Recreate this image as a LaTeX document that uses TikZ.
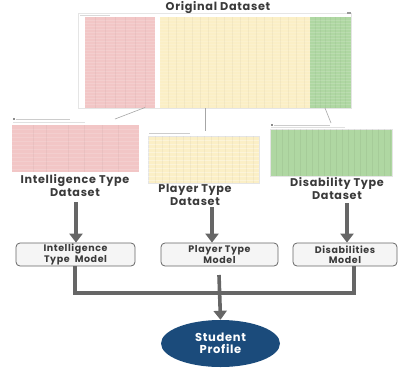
\documentclass[tikz,border=0pt]{standalone}
\usepackage{fontspec}
\setmainfont{Poppins}
\usetikzlibrary{arrows.meta,shapes.geometric}
\definecolor{redc}{HTML}{F2C6C6}
\definecolor{yelc}{HTML}{FBEFC6}
\definecolor{grnc}{HTML}{AFD7A2}
\definecolor{navy}{HTML}{1B4B7B}
\definecolor{arrowgray}{HTML}{666666}
\definecolor{txt}{HTML}{3A3A3A}
\tikzset{
  sheet/.style={draw=black!10, line width=0.4pt, fill=white, inner sep=0pt, rectangle},
  thinlink/.style={draw=black!35, line width=0.6pt},
  fat/.style={draw=arrowgray, line width=3.6pt},
  fatarrow/.style={fat, -{Triangle[width=13pt,length=9pt]}},
  model/.style={draw=black!60, line width=0.8pt, fill=black!4, rounded corners=4pt,
    minimum width=#1, minimum height=23pt, align=center,
    font=\bfseries\fontsize{9.5}{10.4}\selectfont\addfontfeature{LetterSpace=6}, text=txt, inner sep=1pt},
  label/.style={align=center, font=\bfseries\fontsize{11.2}{13}\selectfont\addfontfeature{LetterSpace=6}, text=txt},
  stripe/.style={draw=white, line width=0.5pt, opacity=0.15},
  darkstripe/.style={draw=black, line width=0.4pt, opacity=0.035},
}
\begin{document}
\begin{tikzpicture}[x=1pt,y=-1pt]
\useasboundingbox (0,0) rectangle (408,368);
% ---------- Original dataset ----------
\node[font=\bfseries\fontsize{11.3}{12}\selectfont\addfontfeature{LetterSpace=6}, text=txt] (origtitle) at (218,7.5) {Original Dataset};
\node[sheet, minimum width=273pt, minimum height=95pt, anchor=north west] (orig) at (78,13) {};
\fill[redc] (85,17) rectangle (155,108);
\fill[yelc] (160,17) rectangle (310,108);
\fill[grnc] (310,17) rectangle (351,108);
\foreach \y in {20,23,...,106} {\draw[stripe] (85,\y) -- (351,\y);}
\foreach \x in {95,105,...,150} {\draw[darkstripe] (\x,17) -- (\x,108);}
\foreach \x in {168,176,...,305} {\draw[darkstripe] (\x,17) -- (\x,108);}
\foreach \x in {315,320,...,348} {\draw[darkstripe] (\x,17) -- (\x,108);}
\draw[black!15, line width=0.5pt] (80,15) -- (110,15);
\fill[black!40] (347,12) rectangle (351,14);
% ---------- Intelligence sheet ----------
\node[sheet, draw=none, minimum width=127pt, minimum height=57pt, anchor=north west] (intsheet) at (12,115) {};
\fill[redc] (12,125) rectangle (139,172);
\foreach \y in {129,133,...,170} {\draw[stripe] (12,\y) -- (139,\y);}
\foreach \x in {33,46,68,84,102,118} {\draw[darkstripe] (\x,125) -- (\x,172);}
\fill[black!45] (13,118) rectangle (15,120);
\draw[black!20, line width=0.6pt] (16,119) -- (70,119);
\draw[black!12, line width=0.5pt] (13,122) -- (85,122);
% ---------- Player sheet ----------
\node[sheet, draw=none, minimum width=111pt, minimum height=52pt, anchor=north west] (plysheet) at (148,131) {};
\fill[yelc] (148,136) rectangle (259,183);
\draw[black!10, line width=0.5pt] (148,136) rectangle (259,183);
\foreach \y in {140,144,...,181} {\draw[stripe, opacity=0.35] (148,\y) -- (259,\y);}
\foreach \x in {155,162,...,256} {\draw[darkstripe] (\x,136) -- (\x,183);}
\draw[black!20, line width=0.6pt] (149,133) -- (190,133);
% ---------- Disability sheet ----------
\node[sheet, draw=none, minimum width=122pt, minimum height=53pt, anchor=north west] (dissheet) at (270,123) {};
\fill[grnc] (270,129) rectangle (392,176);
\draw[black!10, line width=0.5pt] (270,129) rectangle (392,176);
\foreach \x in {276,282,...,390} {\draw[darkstripe, opacity=0.05] (\x,129) -- (\x,176);}
\fill[black!45] (271,124) rectangle (273,126);
\draw[black!20, line width=0.6pt] (274,125) -- (330,125);
\draw[black!12, line width=0.5pt] (271,127.5) -- (345,127.5);
% ---------- links from original ----------
\coordinate (oL) at (145,107.5);
\coordinate (oM) at (205,108);
\coordinate (oR) at (325,108);
\coordinate (iT) at (115,119);
\coordinate (pT) at (205,131);
\coordinate (dT) at (331,123);
\draw[thinlink] (oL) -- (iT);
\draw[thinlink] (oM) -- (pT);
\draw[thinlink] (oR) -- (dT);
% ---------- dataset labels ----------
\node[label] (intlab) at (75,185.5) {Intelligence Type\\Dataset};
\node[label] (plylab) at (195,194.5) {Player Type\\Dataset};
\node[label] (dislab) at (337,188.5) {Disability Type\\Dataset};
% ---------- model boxes ----------
\node[model=119pt] (intmod) at (75.5,254.5) {Intelligence\\Type\ \ Model};
\node[model=117pt] (plymod) at (219.5,254.5) {Player Type\\Model};
\node[model=104pt] (dismod) at (345,254.5) {Disabilities\\Model};
% ---------- arrows dataset -> model ----------
\coordinate (ia) at (76,202);
\coordinate (pa) at (212,207);
\coordinate (da) at (347,203);
\draw[fatarrow] (ia) -- (ia |- intmod.north);
\draw[fatarrow] (pa) -- (pa |- plymod.north);
\draw[fatarrow] (da) -- (da |- dismod.north);
% ---------- student profile ----------
\node[ellipse, fill=navy, minimum width=119pt, minimum height=47pt, inner sep=0pt,
  align=center, text=white, font=\bfseries\fontsize{11.5}{12.5}\selectfont\addfontfeature{LetterSpace=6}] (student) at (220.5,343.5) {Student\\Profile};
% ---------- merge ----------
\coordinate (il) at (75,0);
\coordinate (dl) at (354,0);
\coordinate (busy) at (0,293);
\draw[fat] (intmod.south -| il) -- (il |- busy) -- (dl |- busy) -- (dismod.south -| dl);
\coordinate (mtop) at (219,275);
\draw[fatarrow] (mtop) -- (student.north);
\end{tikzpicture}
\end{document}
